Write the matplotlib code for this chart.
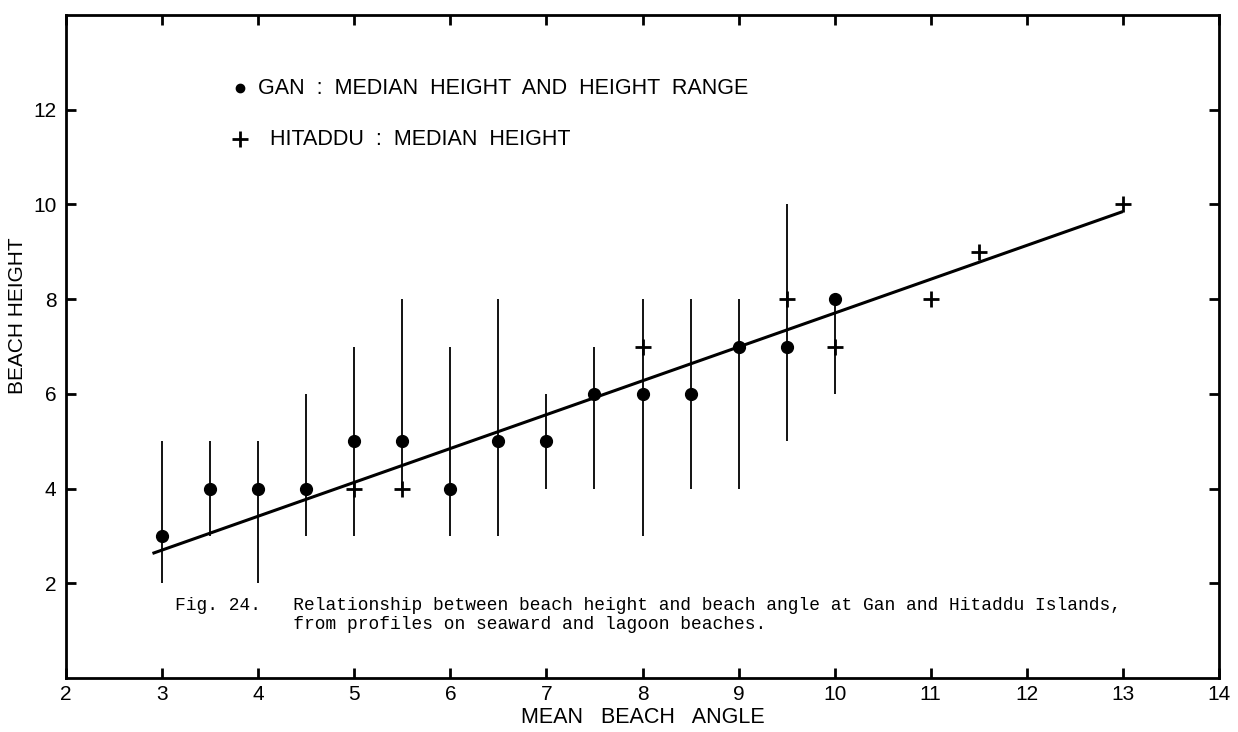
import matplotlib

matplotlib.use("Agg")
import matplotlib.pyplot as plt
import numpy as np

# Gan: median beach height with the height range at each mean beach angle
gan_angle = [3, 3.5, 4, 4.5, 5, 5.5, 6, 6.5, 7, 7.5, 8, 8.5, 9, 9.5, 10]
gan_median = [3, 4, 4, 4, 5, 5, 4, 5, 5, 6, 6, 6, 7, 7, 8]
gan_low = [2, 3, 2, 3, 3, 4, 3, 3, 4, 4, 3, 4, 4, 5, 6]
gan_high = [5, 5, 5, 6, 7, 8, 7, 8, 6, 7, 8, 8, 8, 10, 8]

# Hitaddu: median beach height only
hit_angle = [5, 5.5, 8, 9.5, 10, 11, 11.5, 13]
hit_median = [4, 4, 7, 8, 7, 8, 9, 10]

# fitted line, end points
fit_x = [2.9, 13.0]
fit_y = [2.63, 9.85]

x_ticks = list(range(2, 15))
y_ticks = [2, 4, 6, 8, 10, 12]

plt.rcParams["font.family"] = ["Liberation Sans", "DejaVu Sans"]

fig = plt.figure(figsize=(12.38, 7.32), dpi=100)
ax = fig.add_axes([66 / 1238, 1 - 678 / 732, (1219 - 66) / 1238, (678 - 15) / 732])

ax.vlines(gan_angle, gan_low, gan_high, color="black", lw=1.3)
ax.plot(fit_x, fit_y, color="black", lw=2.2, solid_capstyle="butt")
ax.plot(gan_angle, gan_median, "o", color="black", ms=8.5, ls="none")
ax.plot(hit_angle, hit_median, "+", color="black", ms=12, mew=2.0, ls="none")

ax.set_xlim(2, 14)
ax.set_ylim(0, 14)
ax.set_xticks(x_ticks)
ax.set_yticks(y_ticks)
ax.tick_params(direction="in", length=7, width=2, top=True, right=True,
               labelsize=15, pad=7)
ax.tick_params(axis="x", labeltop=False, pad=5)
for sp in ax.spines.values():
    sp.set_linewidth(2)

ax.set_xlabel("MEAN   BEACH   ANGLE", fontsize=15.5, labelpad=2)
fig.text(18 / 1238, 1 - 316 / 732, "BEACH HEIGHT", rotation=90,
         fontsize=15, ha="center", va="center")

# key in the upper left
ax.plot([3.81], [12.45], "o", color="black", ms=6)
ax.text(4.0, 12.45, "GAN  :  MEDIAN  HEIGHT  AND  HEIGHT  RANGE", fontsize=15.5,
        va="center")
ax.plot([3.81], [11.38], "+", color="black", ms=11, mew=2.0)
ax.text(4.12, 11.38, "HITADDU  :  MEDIAN  HEIGHT", fontsize=15.5, va="center")

# figure caption, typed inside the frame
caption = ("Fig. 24.   Relationship between beach height and beach angle at Gan and Hitaddu Islands,\n"
           "           from profiles on seaward and lagoon beaches.")
ax.text(3.13, 1.72, caption, family="Liberation Mono", fontsize=12.9,
        va="top", ha="left", linespacing=1.2)

fig.savefig("out.png", dpi=100)
